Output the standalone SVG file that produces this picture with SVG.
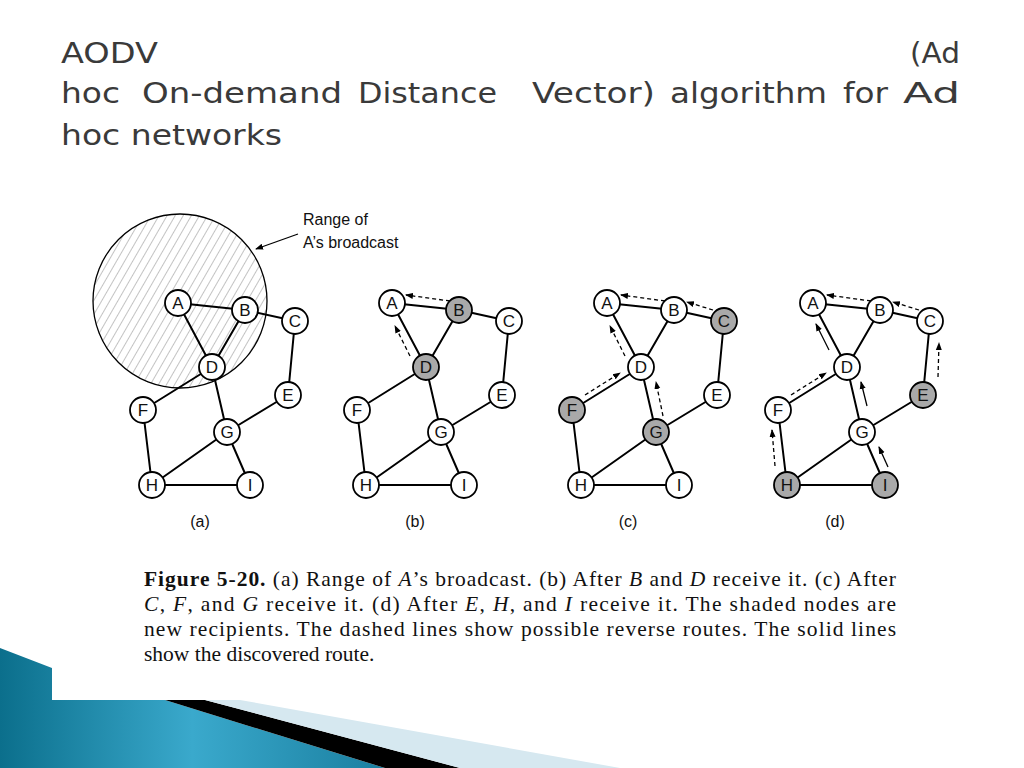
<svg xmlns="http://www.w3.org/2000/svg" width="1024" height="768" viewBox="0 0 1024 768">
<style>
.t{font-family:"DejaVu Sans","Open Sans",sans-serif;font-size:28px;fill:#3a3a3a}
.n circle{fill:#fff;stroke:#000;stroke-width:1.8}
.n circle.s{fill:#a9a9a9}
.n text{font-family:"Liberation Sans",Arial,sans-serif;font-size:17px;text-anchor:middle;fill:#111}
.e{stroke:#000;stroke-width:2;fill:none}
.d{stroke:#000;stroke-width:1.3;stroke-dasharray:4 3;fill:none;marker-end:url(#ah)}
.r{stroke:#000;stroke-width:1.3;fill:none;marker-end:url(#ah)}
.lab{font-family:"Liberation Sans",Arial,sans-serif;font-size:16px;fill:#111}
.cap{font-family:"Liberation Serif","Times New Roman",serif;font-size:21.5px;fill:#111}
</style>
<defs>
<marker id="ah" markerWidth="8" markerHeight="8" refX="7" refY="4" orient="auto" markerUnits="userSpaceOnUse"><path d="M0,1 L8,4 L0,7 Z" fill="#000"/></marker>
<pattern id="hatch" width="7" height="7" patternUnits="userSpaceOnUse" patternTransform="rotate(30)"><line x1="0" y1="0" x2="0" y2="7" stroke="#888" stroke-width="1"/></pattern>
<linearGradient id="bl" x1="0" y1="0" x2="1" y2="0"><stop offset="0" stop-color="#0b6f8c"/><stop offset="0.5" stop-color="#3aa9cc"/><stop offset="1" stop-color="#1a7fa0"/></linearGradient>
<g id="edges">
<path class="e" d="M178,303L245,310M178,303L212,367M245,310L212,367M245,310L295,321M295,321L288,395M212,367L143,410M212,367L227,432M288,395L227,432M143,410L152,485M227,432L152,485M227,432L250,485M152,485L250,485"/>
</g>
</defs>
<rect width="1024" height="768" fill="#fff"/>
<g id="decor">
<polygon points="0,648 52,668 52,700 165,700 385,768 0,768" fill="url(#bl)"/>
<polygon points="165,700 205,700 460,768 385,768" fill="#000"/>
<polygon points="205,700 240,700 620,768 460,768" fill="#d6e8f0"/>
</g>
<g id="title" class="t">
<text x="61" y="63" textLength="97" lengthAdjust="spacingAndGlyphs">AODV</text>
<text x="910" y="63" textLength="50" lengthAdjust="spacingAndGlyphs">(Ad</text>
<text y="103"><tspan x="61" textLength="59" lengthAdjust="spacingAndGlyphs">hoc</tspan> <tspan x="142" textLength="200" lengthAdjust="spacingAndGlyphs">On-demand</tspan> <tspan x="358" textLength="139" lengthAdjust="spacingAndGlyphs">Distance</tspan> <tspan x="532" textLength="123" lengthAdjust="spacingAndGlyphs">Vector)</tspan> <tspan x="670" textLength="157" lengthAdjust="spacingAndGlyphs">algorithm</tspan> <tspan x="843" textLength="45" lengthAdjust="spacingAndGlyphs">for</tspan> <tspan x="903" textLength="57" lengthAdjust="spacingAndGlyphs">Ad</tspan></text>
<text x="61" y="145" textLength="221" lengthAdjust="spacingAndGlyphs">hoc networks</text>
</g>
<g id="range">
<circle cx="180" cy="301" r="87" fill="url(#hatch)" stroke="#000" stroke-width="1.3"/>
<text class="lab" x="303" y="225">Range of</text>
<text class="lab" x="303" y="248">A’s broadcast</text>
<line x1="298" y1="234" x2="256" y2="249" stroke="#000" stroke-width="1.3" marker-end="url(#ah)"/>
</g>
<g id="connectors">
<use href="#edges"/>
<use href="#edges" transform="translate(214,0)"/>
<use href="#edges" transform="translate(429,0)"/>
<use href="#edges" transform="translate(635,0)"/>
<g transform="translate(214,0)">
<path class="d" d="M236,301L192,295"/><path class="d" d="M196,356L181,326"/>
</g>
<g transform="translate(429,0)">
<path class="d" d="M236,301L192,295"/><path class="d" d="M196,356L181,326"/><path class="d" d="M284,310L258,302"/><path class="d" d="M156,395L191,373"/><path class="d" d="M234,416L227,382"/>
</g>
<g transform="translate(635,0)">
<path class="d" d="M236,301L192,295"/><path class="r" d="M194,350L181,324"/><path class="d" d="M284,310L258,302"/><path class="d" d="M156,395L191,373"/><path class="r" d="M232,406L226,382"/><path class="d" d="M303,377L304,343"/><path class="d" d="M140,466L137,430"/><path class="r" d="M253,467L244,447"/>
</g>
</g>
<g id="nodes-a" class="n">
<circle cx="178" cy="303" r="13"/><text x="178" y="309">A</text>
<circle cx="245" cy="310" r="13"/><text x="245" y="316">B</text>
<circle cx="295" cy="321" r="13"/><text x="295" y="327">C</text>
<circle cx="212" cy="367" r="13"/><text x="212" y="373">D</text>
<circle cx="288" cy="395" r="13"/><text x="288" y="401">E</text>
<circle cx="143" cy="410" r="13"/><text x="143" y="416">F</text>
<circle cx="227" cy="432" r="13"/><text x="227" y="438">G</text>
<circle cx="152" cy="485" r="13"/><text x="152" y="491">H</text>
<circle cx="250" cy="485" r="13"/><text x="250" y="491">I</text>
</g>
<g id="nodes-b" class="n" transform="translate(214,0)">
<circle cx="178" cy="303" r="13"/><text x="178" y="309">A</text>
<circle class="s" cx="245" cy="310" r="13"/><text x="245" y="316">B</text>
<circle cx="295" cy="321" r="13"/><text x="295" y="327">C</text>
<circle class="s" cx="212" cy="367" r="13"/><text x="212" y="373">D</text>
<circle cx="288" cy="395" r="13"/><text x="288" y="401">E</text>
<circle cx="143" cy="410" r="13"/><text x="143" y="416">F</text>
<circle cx="227" cy="432" r="13"/><text x="227" y="438">G</text>
<circle cx="152" cy="485" r="13"/><text x="152" y="491">H</text>
<circle cx="250" cy="485" r="13"/><text x="250" y="491">I</text>
</g>
<g id="nodes-c" class="n" transform="translate(429,0)">
<circle cx="178" cy="303" r="13"/><text x="178" y="309">A</text>
<circle cx="245" cy="310" r="13"/><text x="245" y="316">B</text>
<circle class="s" cx="295" cy="321" r="13"/><text x="295" y="327">C</text>
<circle cx="212" cy="367" r="13"/><text x="212" y="373">D</text>
<circle cx="288" cy="395" r="13"/><text x="288" y="401">E</text>
<circle class="s" cx="143" cy="410" r="13"/><text x="143" y="416">F</text>
<circle class="s" cx="227" cy="432" r="13"/><text x="227" y="438">G</text>
<circle cx="152" cy="485" r="13"/><text x="152" y="491">H</text>
<circle cx="250" cy="485" r="13"/><text x="250" y="491">I</text>
</g>
<g id="nodes-d" class="n" transform="translate(635,0)">
<circle cx="178" cy="303" r="13"/><text x="178" y="309">A</text>
<circle cx="245" cy="310" r="13"/><text x="245" y="316">B</text>
<circle cx="295" cy="321" r="13"/><text x="295" y="327">C</text>
<circle cx="212" cy="367" r="13"/><text x="212" y="373">D</text>
<circle class="s" cx="288" cy="395" r="13"/><text x="288" y="401">E</text>
<circle cx="143" cy="410" r="13"/><text x="143" y="416">F</text>
<circle cx="227" cy="432" r="13"/><text x="227" y="438">G</text>
<circle class="s" cx="152" cy="485" r="13"/><text x="152" y="491">H</text>
<circle class="s" cx="250" cy="485" r="13"/><text x="250" y="491">I</text>
</g>
<g id="panel-labels" class="lab" text-anchor="middle">
<text x="200" y="527">(a)</text><text x="415" y="527">(b)</text><text x="628" y="527">(c)</text><text x="835" y="527">(d)</text>
</g>
<g id="caption" class="cap">
<text x="144" y="586" textLength="752" lengthAdjust="spacing"><tspan font-weight="bold">Figure 5-20.</tspan>  (a) Range of <tspan font-style="italic">A</tspan>’s broadcast. (b) After <tspan font-style="italic">B</tspan> and <tspan font-style="italic">D</tspan> receive it. (c) After</text>
<text x="144" y="611" textLength="752" lengthAdjust="spacing"><tspan font-style="italic">C</tspan>, <tspan font-style="italic">F</tspan>, and <tspan font-style="italic">G</tspan> receive it. (d) After <tspan font-style="italic">E</tspan>, <tspan font-style="italic">H</tspan>, and <tspan font-style="italic">I</tspan> receive it.  The shaded nodes are</text>
<text x="144" y="636" textLength="752" lengthAdjust="spacing">new recipients.  The dashed lines show possible reverse routes.  The solid lines</text>
<text x="144" y="661">show the discovered route.</text>
</g>
</svg>
